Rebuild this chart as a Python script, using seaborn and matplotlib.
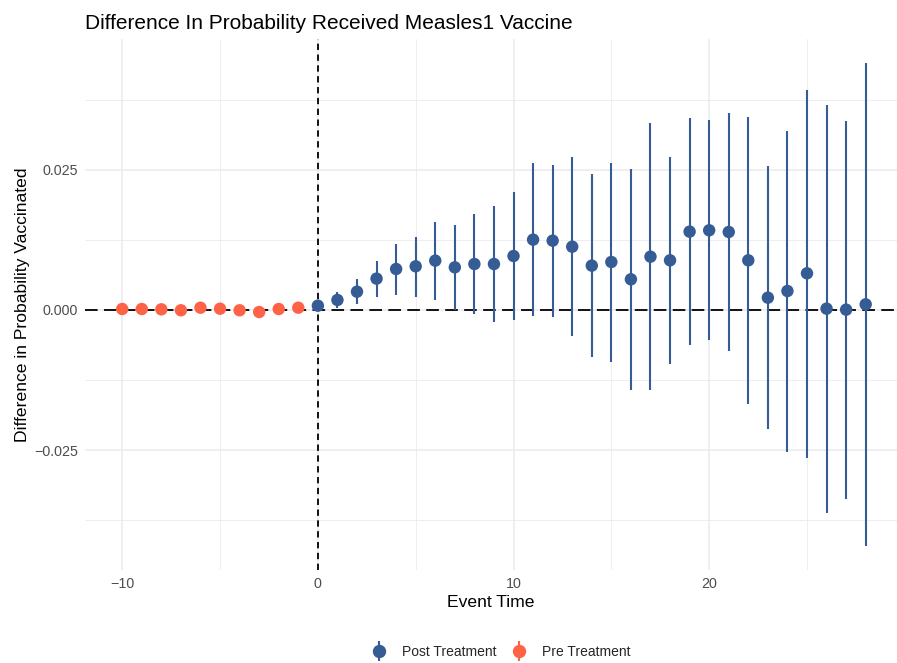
import numpy as np
import pandas as pd
import seaborn as sns
import matplotlib.pyplot as plt
from matplotlib.lines import Line2D
from matplotlib.legend_handler import HandlerTuple
from matplotlib.ticker import FuncFormatter, MultipleLocator

# Event-study estimates: periods relative to treatment
pre_time = [-10, -9, -8, -7, -6, -5, -4, -3, -2, -1]
pre_est = [0.00018, 0.00018, 0.00012, -0.00005, 0.00041, 0.00023, -0.00005, -0.00036, 0.00018, 0.00041]
pre_lo = [-0.00010, -0.00010, -0.00016, -0.00033, 0.00013, -0.00005, -0.00033, -0.00064, -0.00010, 0.00013]
pre_hi = [0.00046, 0.00046, 0.00040, 0.00023, 0.00069, 0.00051, 0.00023, -0.00008, 0.00046, 0.00069]

post_time = list(range(0, 29))
post_est = [0.00077, 0.00179, 0.00327, 0.00560, 0.00732, 0.00780, 0.00881, 0.00762, 0.00821, 0.00821,
            0.00964, 0.01256, 0.01238, 0.01130, 0.00792, 0.00857, 0.00548, 0.00952, 0.00887, 0.01399,
            0.01423, 0.01393, 0.00887, 0.00220, 0.00339, 0.00655, 0.00024, 0.00006, 0.00101]
post_lo = [0.00040, 0.00030, 0.00101, 0.00238, 0.00262, 0.00238, 0.00173, -0.00006, -0.00071, -0.00208,
           -0.00179, -0.00101, -0.00119, -0.00470, -0.00833, -0.00923, -0.01435, -0.01423, -0.00970, -0.00631,
           -0.00542, -0.00732, -0.01685, -0.02130, -0.02530, -0.02637, -0.03620, -0.03380, -0.04214]
post_hi = [0.00114, 0.00327, 0.00548, 0.00875, 0.01179, 0.01304, 0.01577, 0.01512, 0.01708, 0.01857,
           0.02101, 0.02619, 0.02583, 0.02726, 0.02423, 0.02619, 0.02518, 0.03333, 0.02738, 0.03429,
           0.03387, 0.03512, 0.03452, 0.02565, 0.03196, 0.03929, 0.03655, 0.03375, 0.04405]

groups = ["Post Treatment", "Pre Treatment"]
colors = {"Post Treatment": "#365C96", "Pre Treatment": "#FF6347"}

df = pd.concat([
    pd.DataFrame({"time": post_time, "est": post_est, "lo": post_lo, "hi": post_hi, "group": groups[0]}),
    pd.DataFrame({"time": pre_time, "est": pre_est, "lo": pre_lo, "hi": pre_hi, "group": groups[1]}),
], ignore_index=True)

sns.set_theme(style="white")
plt.rcParams["font.family"] = ["Liberation Sans", "DejaVu Sans"]

fig = plt.figure(figsize=(8.97, 6.63), dpi=100)
ax = fig.add_axes([0.0948, 0.140, 0.9052, 0.801])

ax.set_xlim(-11.9, 29.6)
ax.set_ylim(-0.04645, 0.04836)

ax.xaxis.set_major_locator(MultipleLocator(10))
ax.xaxis.set_minor_locator(MultipleLocator(5))
ax.yaxis.set_major_locator(MultipleLocator(0.025))
ax.yaxis.set_minor_locator(MultipleLocator(0.0125))
ax.grid(True, which="major", color="#EBEBEB", linewidth=1.1)
ax.grid(True, which="minor", color="#EBEBEB", linewidth=0.6)
ax.set_axisbelow(True)
for s in ax.spines.values():
    s.set_visible(False)
ax.tick_params(which="both", length=0, labelsize=10.3, labelcolor="#4D4D4D")
ax.tick_params(axis="x", pad=5)
ax.tick_params(axis="y", pad=5)
ax.yaxis.set_major_formatter(FuncFormatter(lambda v, p: f"{v:.3f}".replace("-", "\u2212")))
ax.xaxis.set_major_formatter(FuncFormatter(lambda v, p: f"{v:.0f}".replace("-", "\u2212")))

# reference lines
ax.axhline(0, color="black", linewidth=1.3, dashes=(7, 3.5), zorder=1)
ax.axvline(0, color="black", linewidth=1.3, dashes=(3.5, 2.5), zorder=1)

# confidence intervals
for g in groups:
    sub = df[df["group"] == g]
    ax.vlines(sub["time"], sub["lo"], sub["hi"], color=colors[g], linewidth=1.5, zorder=2)

sns.scatterplot(data=df, x="time", y="est", hue="group", palette=colors, hue_order=groups,
                s=80, linewidth=0, ax=ax, legend=False, zorder=3)

ax.set_xlabel("Event Time", fontsize=12.6, color="black", labelpad=3)
ax.set_ylabel("Difference in Probability Vaccinated", fontsize=12.6, color="black", labelpad=3)
ax.set_title("Difference In Probability Received Measles1 Vaccine", fontsize=15, loc="left",
             color="black", pad=7)

handles = []
for g in groups:
    bar = Line2D([], [], color=colors[g], marker="|", markersize=14.5, markeredgewidth=1.5, linestyle="none")
    dot = Line2D([], [], color=colors[g], marker="o", markersize=8.6, linestyle="none")
    handles.append((bar, dot))
fig.legend(handles, groups, handler_map={tuple: HandlerTuple(ndivide=1, pad=0)},
           loc="center", bbox_to_anchor=(501 / 897, 1 - 652 / 663), ncol=2, frameon=False,
           fontsize=10, handlelength=1.0, columnspacing=1.15, handletextpad=1.15)

fig.savefig("out.png", dpi=100, facecolor="white")
